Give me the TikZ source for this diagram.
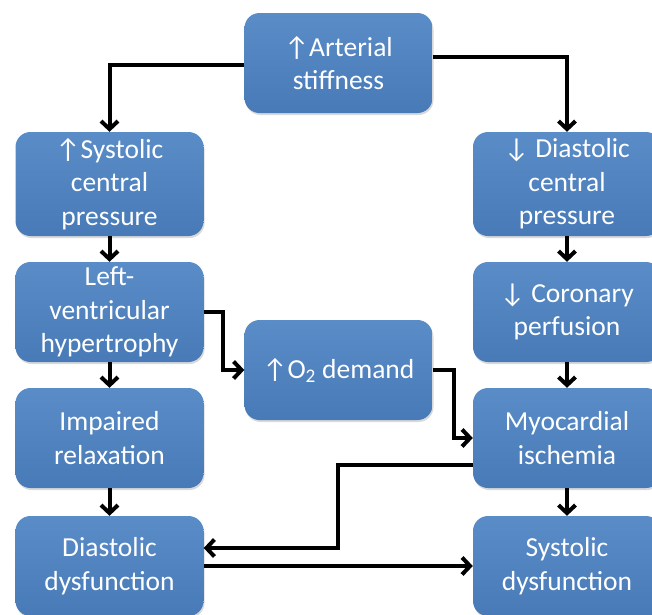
\documentclass[tikz,border=0pt]{standalone}
\usepackage{fontspec}
\setmainfont{Carlito}
\usetikzlibrary{arrows.meta,shadows}
\definecolor{boxtop}{RGB}{90,140,200}
\definecolor{boxbot}{RGB}{72,122,183}
\begin{document}
\begin{tikzpicture}[x=1pt,y=-1pt]
	\tikzset{stage/.style={rounded corners=15pt,top color=boxtop,bottom color=boxbot,draw=none,
			text=white,align=center,minimum width=188pt,minimum height=100pt,inner sep=2pt,
			font=\fontsize{27.5}{33.5}\selectfont,drop shadow={opacity=0.3,shadow xshift=1pt,shadow yshift=-2pt}},
		link/.style={line width=4pt,-{Straight Barb[length=8pt,width=17pt]}}}
	\useasboundingbox (0,0) rectangle (652,614);
	\node[stage] (art) at (338.5,63) {↑Arterial\\stiffness};
	\node[stage,minimum height=104pt] (scp) at (109.5,184) {↑Systolic\\central\\pressure};
	\node[stage,minimum height=104pt] (dcp) at (567,184) {↓ Diastolic\\central\\pressure};
	\node[stage] (lvh) at (109.5,312) {Left-\\ventricular\\hypertrophy};
	\node[stage] (cor) at (567,312) {↓ Coronary\\perfusion};
	\node[stage] (oxy) at (338.5,370) {↑O\textsubscript{2} demand};
	\node[stage] (imp) at (109.5,438) {Impaired\\relaxation};
	\node[stage] (isc) at (567,438) {Myocardial\\ischemia};
	\node[stage] (ddf) at (109.5,566) {Diastolic\\dysfunction};
	\node[stage] (sdf) at (567,566) {Systolic\\dysfunction};
	\draw[link] ([yshift=-2pt]art.west) -| (scp.north);
	\draw[link] ([yshift=6pt]art.east) -| (dcp.north);
	\draw[link] (scp.south) -- (lvh.north);
	\draw[link] (lvh.south) -- (imp.north);
	\draw[link] (imp.south) -- (ddf.north);
	\draw[link] (dcp.south) -- (cor.north);
	\draw[link] (cor.south) -- (isc.north);
	\draw[link] (isc.south) -- (sdf.north);
	\draw[link] (lvh.east) -- ++(19,0) |- (oxy.west);
	\draw[link] (oxy.east) -- ++(21,0) |- (isc.west);
	\draw[link] ([yshift=-27pt]isc.west) -- ++(-135,0) |- ([yshift=18pt]ddf.east);
	\draw[link] (ddf.east) -- (sdf.west);
\end{tikzpicture}
\end{document}
